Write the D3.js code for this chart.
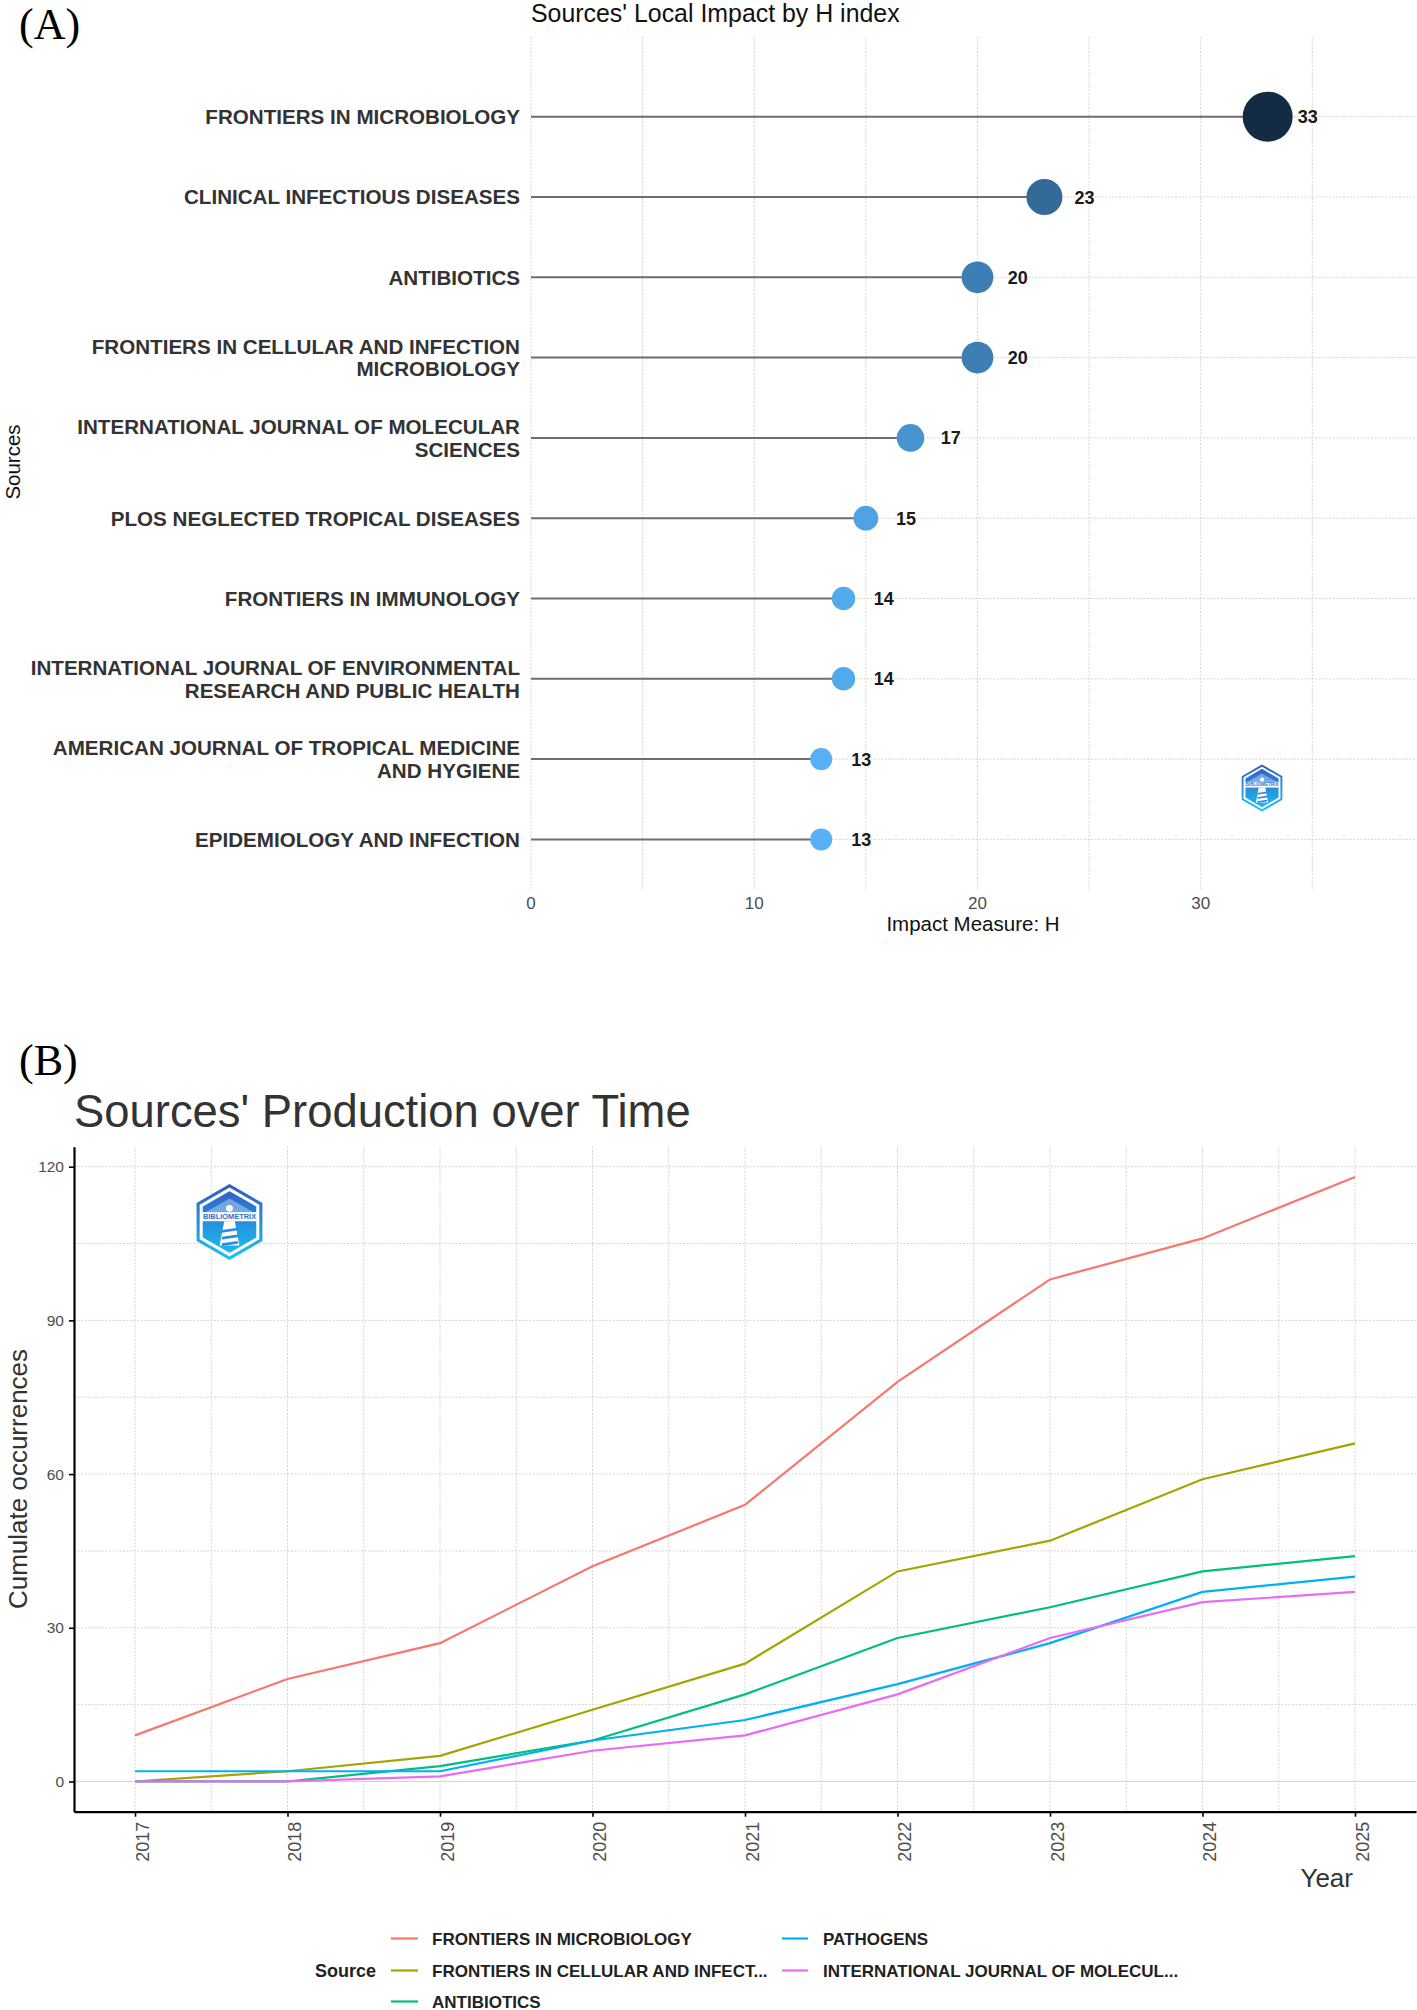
<!DOCTYPE html>
<html><head><meta charset="utf-8">
<script src="https://cdn.jsdelivr.net/npm/d3@7"></script>
<style>body{margin:0;background:#fff}svg{display:block}text{font-family:"Liberation Sans",Arial,sans-serif}</style>
</head><body><svg id="chart" width="1417" height="2010"></svg>
<script>
// ---------- Panel A data ----------
const sourcesA = ["FRONTIERS IN MICROBIOLOGY","CLINICAL INFECTIOUS DISEASES","ANTIBIOTICS","FRONTIERS IN CELLULAR AND INFECTION MICROBIOLOGY","INTERNATIONAL JOURNAL OF MOLECULAR SCIENCES","PLOS NEGLECTED TROPICAL DISEASES","FRONTIERS IN IMMUNOLOGY","INTERNATIONAL JOURNAL OF ENVIRONMENTAL RESEARCH AND PUBLIC HEALTH","AMERICAN JOURNAL OF TROPICAL MEDICINE AND HYGIENE","EPIDEMIOLOGY AND INFECTION"];
const labelLinesA = [["FRONTIERS IN MICROBIOLOGY"],["CLINICAL INFECTIOUS DISEASES"],["ANTIBIOTICS"],["FRONTIERS IN CELLULAR AND INFECTION","MICROBIOLOGY"],["INTERNATIONAL JOURNAL OF MOLECULAR","SCIENCES"],["PLOS NEGLECTED TROPICAL DISEASES"],["FRONTIERS IN IMMUNOLOGY"],["INTERNATIONAL JOURNAL OF ENVIRONMENTAL","RESEARCH AND PUBLIC HEALTH"],["AMERICAN JOURNAL OF TROPICAL MEDICINE","AND HYGIENE"],["EPIDEMIOLOGY AND INFECTION"]];
const hIndex = [33,23,20,20,17,15,14,14,13,13];
const xTicksA = [0,10,20,30];
const xGridA = [0,5,10,15,20,25,30,35];

// ---------- Panel B data ----------
const years = [2017,2018,2019,2020,2021,2022,2023,2024,2025];
const seriesNames = ["FRONTIERS IN MICROBIOLOGY","FRONTIERS IN CELLULAR AND INFECTION MICROBIOLOGY","ANTIBIOTICS","PATHOGENS","INTERNATIONAL JOURNAL OF MOLECULAR SCIENCES"];
const legendLabels = ["FRONTIERS IN MICROBIOLOGY","FRONTIERS IN CELLULAR AND INFECT...","ANTIBIOTICS","PATHOGENS","INTERNATIONAL JOURNAL OF MOLECUL..."];
const frontiersMicro = [9,20,27,42,54,78,98,106,118];
const frontiersCell = [0,2,5,14,23,41,47,59,66];
const antibiotics = [0,0,3,8,17,28,34,41,44];
const pathogens = [2,2,2,8,12,19,27,37,40];
const ijms = [0,0,1,6,9,17,28,35,37];
const seriesValues = [frontiersMicro, frontiersCell, antibiotics, pathogens, ijms];
const seriesColors = ["#F8766D","#A3A500","#00BF7D","#00B0F6","#E76BF3"];
const yTicksB = [0,30,60,90,120];
const yMinorB = [15,45,75,105];

const svg = d3.select("#chart");
const SANS = '"Liberation Sans",Arial,sans-serif';
const SERIF = '"Liberation Serif","Times New Roman",serif';
const gridColor = "#d4d4d4";

// ---------- logo ----------
const defs = svg.append("defs");
const lg = defs.append("linearGradient").attr("id","logoGrad").attr("x1",0).attr("y1",0).attr("x2",0).attr("y2",1);
lg.append("stop").attr("offset","0%").attr("stop-color","#3557c4");
lg.append("stop").attr("offset","100%").attr("stop-color","#17c6f4");
function hexPts(cx, cy, R){
  return d3.range(6).map(i => { const a = (-90 + 60*i) * Math.PI/180; return [cx + R*Math.cos(a), cy + R*Math.sin(a)]; });
}
function drawLogo(cx, cy, R){
  const g = svg.append("g");
  const line = d3.line().curve(d3.curveLinearClosed);
  g.append("path").attr("d", line(hexPts(cx,cy,R))).attr("fill","url(#logoGrad)");
  g.append("path").attr("d", line(hexPts(cx,cy,R*0.86))).attr("fill","none").attr("stroke","#fff").attr("stroke-width",R*0.08);
  g.append("path").attr("d", line([[cx, cy-R*0.62],[cx+R*0.62, cy-R*0.26],[cx-R*0.62, cy-R*0.26]])).attr("fill","#fff").attr("opacity",0.35);
  g.append("rect").attr("x", cx-R*0.74).attr("y", cy-R*0.26).attr("width", R*1.48).attr("height", R*0.24).attr("fill","#fff");
  g.append("text").attr("x",cx).attr("y",cy-R*0.07).attr("text-anchor","middle")
    .attr("font-size",R*0.2).attr("font-weight","bold").attr("fill","#2f6fd0").attr("textLength",R*1.4)
    .attr("lengthAdjust","spacingAndGlyphs").text("BIBLIOMETRIX");
  g.append("path").attr("d", line([[cx-R*0.14, cy-R*0.02],[cx+R*0.14, cy-R*0.02],[cx+R*0.26, cy+R*0.62],[cx-R*0.26, cy+R*0.62]])).attr("fill","#fff");
  [0.15,0.33,0.5].forEach(t => {
    g.append("path").attr("d", line([[cx-R*0.2, cy+R*(t+0.06)],[cx+R*0.22, cy+R*t],[cx+R*0.22, cy+R*(t+0.07)],[cx-R*0.2, cy+R*(t+0.13)]])).attr("fill","#2a8be0");
  });
  g.append("circle").attr("cx",cx).attr("cy",cy-R*0.36).attr("r",R*0.09).attr("fill","#fff");
}

// ---------- Panel A ----------
const xA = d3.scaleLinear().domain([0, 39.6]).range([531, 1415]);
const yA = d3.scalePoint().domain(sourcesA).range([116.7, 839.4]);
const topA = 37, botA = 889;
const colorA = d3.scaleLinear().domain([13,33]).range(["#56B1F7","#132B43"]).interpolate(d3.interpolateLab);
const rA = d3.scaleLinear().domain([13,33]).range([11,25]);

svg.append("text").attr("x",19).attr("y",39).attr("font-size",44).attr("fill","#000").text("(A)").style("font-family",SERIF);
svg.append("text").attr("x",531).attr("y",22).attr("font-size",24.9).attr("fill","#111").text("Sources' Local Impact by H index");

const gA = svg.append("g");
gA.selectAll(".vgrid").data(xGridA).join("line")
  .attr("x1",d=>xA(d)).attr("x2",d=>xA(d)).attr("y1",topA).attr("y2",botA)
  .attr("stroke",gridColor).attr("stroke-width",1).attr("stroke-dasharray","2,1.5");
gA.selectAll(".hgrid").data(sourcesA).join("line")
  .attr("x1",531).attr("x2",1415).attr("y1",d=>yA(d)).attr("y2",d=>yA(d))
  .attr("stroke",gridColor).attr("stroke-width",1).attr("stroke-dasharray","2,1.5");

drawLogo(1262, 788, 23.5);

gA.selectAll(".seg").data(sourcesA).join("line")
  .attr("x1",xA(0)).attr("x2",(d,i)=>xA(hIndex[i])).attr("y1",d=>yA(d)).attr("y2",d=>yA(d))
  .attr("stroke","#6e6e6e").attr("stroke-width",2);
gA.selectAll(".dot").data(sourcesA).join("circle")
  .attr("cx",(d,i)=>xA(hIndex[i])).attr("cy",d=>yA(d)).attr("r",(d,i)=>rA(hIndex[i]))
  .attr("fill",(d,i)=>colorA(hIndex[i]));
gA.selectAll(".val").data(sourcesA).join("text")
  .attr("x",(d,i)=>xA(hIndex[i]+1.8)).attr("y",d=>yA(d)+6.5).attr("text-anchor","middle")
  .attr("font-size",18).attr("font-weight","bold").attr("fill","#1a1a1a").text((d,i)=>hIndex[i]);

sourcesA.forEach((s,i) => {
  const lines = labelLinesA[i];
  const n = lines.length;
  lines.forEach((ln,j) => {
    const off = n === 1 ? 0 : (j === 0 ? -11.3 : 11.3);
    gA.append("text").attr("x",520).attr("y",yA(s)+off+7.4).attr("text-anchor","end")
      .attr("font-size",20.6).attr("font-weight","bold").attr("fill","#333").text(ln);
  });
});
gA.selectAll(".xt").data(xTicksA).join("text")
  .attr("x",d=>xA(d)).attr("y",909).attr("text-anchor","middle").attr("font-size",17).attr("fill","#4d4d4d").text(d=>d);
svg.append("text").attr("x",(531+1415)/2).attr("y",931).attr("text-anchor","middle").attr("font-size",20.5).attr("fill","#111").text("Impact Measure: H");
svg.append("text").attr("transform","translate(20,462) rotate(-90)").attr("text-anchor","middle").attr("font-size",20.5).attr("fill","#111").text("Sources");

// ---------- Panel B ----------
svg.append("text").attr("x",19).attr("y",1075).attr("font-size",44).attr("fill","#000").text("(B)").style("font-family",SERIF);
svg.append("text").attr("x",74).attr("y",1127).attr("font-size",45.4).attr("fill","#333").text("Sources' Production over Time");

const xB = d3.scaleLinear().domain([2016.6, 2025.4]).range([74, 1416]);
const yB = d3.scaleLinear().domain([-5.9, 123.9]).range([1811.7, 1146.7]);
const gB = svg.append("g");
const xMinorB = years.slice(0,-1).map(y => y + 0.5);
gB.selectAll(".gv").data(years.concat(xMinorB)).join("line")
  .attr("x1",d=>xB(d)).attr("x2",d=>xB(d)).attr("y1",1146.7).attr("y2",1811.7)
  .attr("stroke",gridColor).attr("stroke-width",1).attr("stroke-dasharray","2,1.5");
gB.selectAll(".gh").data(yTicksB.concat(yMinorB)).join("line")
  .attr("x1",74).attr("x2",1416).attr("y1",d=>yB(d)).attr("y2",d=>yB(d))
  .attr("stroke",gridColor).attr("stroke-width",1).attr("stroke-dasharray",d=>d===0?null:"2,1.5");

drawLogo(229.5, 1222, 38);

const lineGen = d3.line().x((d,i)=>xB(years[i])).y(d=>yB(d));
gB.selectAll(".series").data(seriesValues).join("path")
  .attr("d", d=>lineGen(d)).attr("fill","none").attr("stroke",(d,i)=>seriesColors[i]).attr("stroke-width",2.2);

const axL = svg.append("g").attr("transform","translate(74,0)")
  .call(d3.axisLeft(yB).tickValues(yTicksB).tickSize(5).tickSizeOuter(0).tickPadding(5));
axL.select(".domain").attr("stroke","#000").attr("stroke-width",2.2);
axL.selectAll(".tick line").attr("stroke","#000").attr("stroke-width",1.6);
axL.selectAll(".tick text").attr("font-size",15.5).attr("fill","#4d4d4d").attr("font-family",SANS);

const axB = svg.append("g").attr("transform","translate(0,1811.7)")
  .call(d3.axisBottom(xB).tickValues(years).tickFormat(d3.format("d")).tickSize(5).tickSizeOuter(0));
axB.select(".domain").attr("stroke","#000").attr("stroke-width",2.2);
axB.selectAll(".tick line").attr("stroke","#000").attr("stroke-width",1.6);
axB.selectAll(".tick text").attr("font-size",18).attr("fill","#4d4d4d").attr("font-family",SANS)
  .attr("transform","translate(13,10) rotate(-90)").attr("x",0).attr("y",0).attr("dy",null)
  .attr("text-anchor","end");

svg.append("text").attr("x",1353).attr("y",1887).attr("text-anchor","end").attr("font-size",26).attr("fill","#333").text("Year");
svg.append("text").attr("transform","translate(27,1479) rotate(-90)").attr("text-anchor","middle").attr("font-size",26).attr("fill","#333").text("Cumulate occurrences");

const legRows = [1938.5, 1970.5, 2001.5];
const legCols = [[391,418,432],[782,808,823]];
svg.append("text").attr("x",315).attr("y",legRows[1]+6.5).attr("font-size",18).attr("font-weight","bold").attr("fill","#222").text("Source");
legendLabels.forEach((lab,i) => {
  const col = legCols[Math.floor(i/3)], row = legRows[i%3];
  svg.append("line").attr("x1",col[0]).attr("x2",col[1]).attr("y1",row).attr("y2",row).attr("stroke",seriesColors[i]).attr("stroke-width",2.2);
  svg.append("text").attr("x",col[2]).attr("y",row+6).attr("font-size",17).attr("font-weight","bold").attr("fill","#222").text(lab);
});
</script></body></html>
